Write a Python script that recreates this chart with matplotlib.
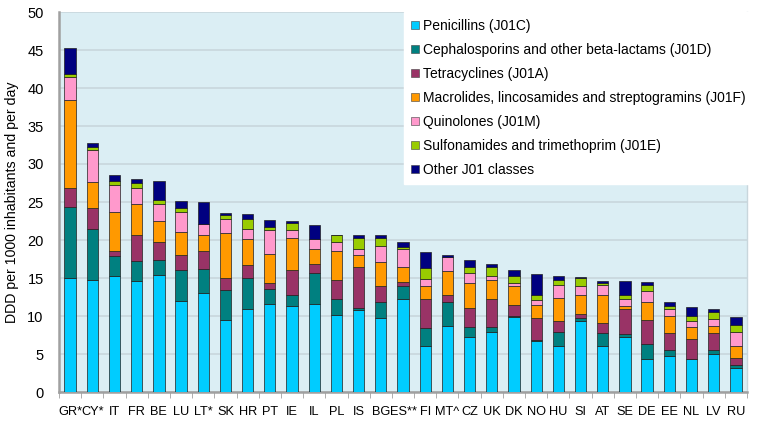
import numpy as np
import matplotlib
matplotlib.use("Agg")
import matplotlib.pyplot as plt
from matplotlib.patches import Patch

plt.rcParams['font.family'] = ['Liberation Sans', 'DejaVu Sans']

countries = ["GR*", "CY*", "IT", "FR", "BE", "LU", "LT*", "SK", "HR", "PT",
             "IE", "IL", "PL", "IS", "BG", "ES**", "FI", "MT^", "CZ", "UK",
             "DK", "NO", "HU", "SI", "AT", "SE", "DE", "EE", "NL", "LV", "RU"]

# 累计高度，每类 = 当前累计 - 上一累计
cum_pen = [15.0, 14.8, 15.2, 14.6, 15.4, 12.0, 13.0, 9.5, 10.9, 11.6,
           11.3, 11.6, 10.1, 10.8, 9.7, 12.2, 6.0, 8.7, 7.2, 7.9,
           9.9, 6.7, 6.1, 9.4, 6.1, 7.3, 4.3, 4.7, 4.3, 5.0, 3.2]
cum_ceph = [24.4, 21.4, 17.9, 17.3, 17.4, 16.0, 16.2, 13.4, 15.0, 13.5,
            12.8, 15.7, 12.3, 11.1, 11.8, 13.9, 8.4, 11.8, 8.6, 8.6,
            10.0, 6.8, 7.9, 9.8, 7.8, 7.6, 6.3, 5.5, 4.4, 5.5, 3.5]
cum_tetra = [26.8, 24.2, 18.5, 20.7, 19.7, 18.0, 18.6, 15.0, 16.7, 14.4,
             16.1, 16.9, 14.8, 16.4, 14.0, 14.5, 12.3, 12.7, 11.1, 12.3,
             11.5, 9.7, 9.4, 10.3, 9.1, 10.9, 9.5, 7.7, 7.0, 7.8, 4.5]
cum_macro = [38.4, 27.6, 23.7, 24.8, 22.5, 21.1, 20.6, 20.9, 20.1, 18.2,
             20.2, 18.8, 18.5, 18.0, 17.1, 16.4, 14.0, 15.9, 14.4, 14.8,
             13.9, 11.5, 12.4, 12.8, 12.8, 11.3, 11.9, 10.0, 8.6, 8.7, 6.1]
cum_quin = [41.4, 31.9, 27.2, 26.9, 24.8, 23.7, 22.1, 22.8, 21.5, 21.3,
            21.3, 20.1, 19.7, 18.8, 19.2, 18.8, 14.9, 17.7, 15.7, 15.2,
            14.4, 12.1, 14.1, 13.9, 14.1, 12.2, 13.3, 10.9, 9.4, 9.6, 7.9]
cum_sulf = [41.9, 32.3, 27.7, 27.5, 25.3, 24.2, 22.1, 23.3, 22.7, 21.7,
            22.2, 20.1, 20.6, 20.2, 20.3, 19.1, 16.3, 17.75, 16.5, 16.5,
            15.2, 12.7, 14.8, 15.0, 14.4, 12.7, 14.1, 11.3, 10.0, 10.5, 8.8]
cum_other = [45.3, 32.8, 28.5, 28.0, 27.7, 25.1, 25.0, 23.5, 23.4, 22.6,
             22.5, 22.0, 20.7, 20.7, 20.6, 19.7, 18.4, 18.0, 17.4, 16.9,
             16.0, 15.5, 15.2, 15.1, 14.6, 14.6, 14.5, 11.9, 11.2, 10.9, 9.9]

labels = ["Penicillins (J01C)",
          "Cephalosporins and other beta-lactams (J01D)",
          "Tetracyclines (J01A)",
          "Macrolides, lincosamides and streptogramins (J01F)",
          "Quinolones (J01M)",
          "Sulfonamides and trimethoprim (J01E)",
          "Other J01 classes"]
colors = ["#00CCFF", "#008080", "#993366", "#FF9900", "#FF99CC", "#99CC00", "#000080"]

cums = np.array([cum_pen, cum_ceph, cum_tetra, cum_macro, cum_quin, cum_sulf, cum_other])
bottoms = np.vstack([np.zeros(len(countries)), cums[:-1]])
heights = cums - bottoms

fig = plt.figure(figsize=(7.71, 4.26), dpi=100)
ax = fig.add_axes([59 / 771, 1 - 392 / 426, (747 - 59) / 771, (392 - 12) / 426])
ax.set_facecolor("#DBEEF4")

x = np.arange(len(countries))
for i in range(len(labels)):
    ax.bar(x, heights[i], bottom=bottoms[i], width=0.51, color=colors[i],
           edgecolor="#202020", linewidth=0.5, zorder=3)

ax.set_xlim(-0.5, len(countries) - 0.5)
ax.set_ylim(0, 50)
ax.set_yticks(range(0, 51, 5))
ax.yaxis.grid(True, color="#C8D6DC", linewidth=1.2, zorder=0)
ax.set_axisbelow(True)

ax.set_xticks(x)
ax.set_xticklabels(countries, fontsize=9.2)
ax.set_xticks(np.arange(-0.5, len(countries), 1), minor=True)
ax.tick_params(axis="x", which="major", length=0, pad=10)
ax.tick_params(axis="x", which="minor", length=4, color="#A0A0A0")
ax.tick_params(axis="y", length=0, labelsize=10.5, pad=11)

for s in ["left", "bottom"]:
    ax.spines[s].set_color("#A0A0A0")
    ax.spines[s].set_linewidth(1.8)
ax.spines["top"].set_visible(False)
ax.spines["right"].set_color("#C8D6DC")
ax.spines["right"].set_linewidth(1.0)

ax.set_ylabel("DDD per 1000 inhabitants and per day", fontsize=10.2, labelpad=6)

handles = [Patch(facecolor=c, edgecolor="#404040", linewidth=0.4) for c in colors]
leg = ax.legend(handles, labels, loc="upper left", bbox_to_anchor=(345 / 688, 1.0),
                fontsize=10, frameon=True, fancybox=False, framealpha=1,
                edgecolor="white", handlelength=0.55, handleheight=0.55,
                handletextpad=0.3, labelspacing=0.72, borderpad=0.5,
                borderaxespad=0)
leg.set_zorder(5)

fig.savefig("out.png", dpi=100)
